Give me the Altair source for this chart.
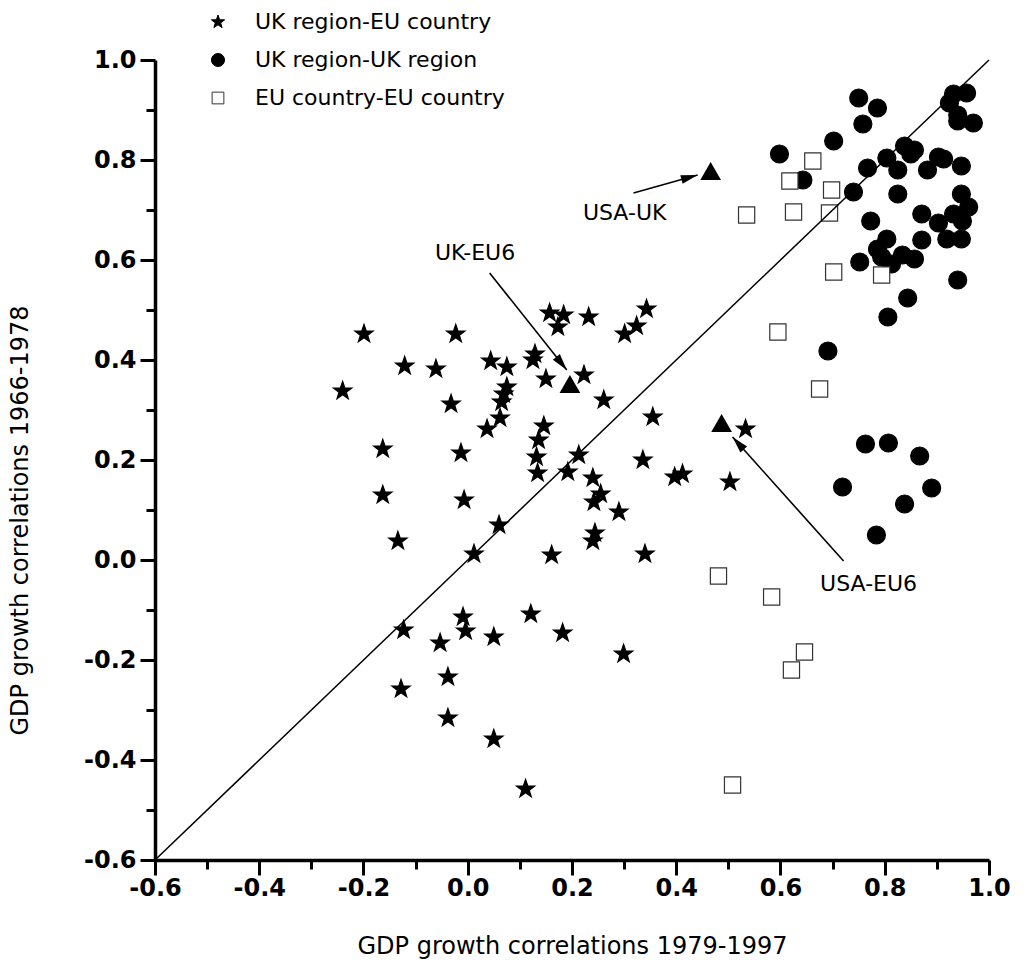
import math
import altair as alt
import pandas as pd

# ---------------- data ----------------
series_names = ["UK region-EU country", "UK region-UK region", "EU country-EU country"]

star_x = [-0.240, -0.199, -0.121, -0.061, -0.023, -0.032, -0.163, -0.163, -0.134, -0.013,
          -0.007, 0.012, -0.123, -0.128, -0.053, -0.009, -0.004, 0.050, -0.038, -0.038,
          0.050, 0.111, 0.121, 0.182, 0.299, 0.060, 0.037, 0.044, 0.075, 0.075,
          0.069, 0.065, 0.062, 0.157, 0.184, 0.173, 0.232, 0.343, 0.324, 0.301,
          0.129, 0.125, 0.150, 0.223, 0.261, 0.355, 0.146, 0.136, 0.132, 0.134,
          0.213, 0.192, 0.240, 0.255, 0.242, 0.290, 0.336, 0.397, 0.412, 0.503,
          0.533, 0.244, 0.240, 0.340, 0.161]
star_y = [0.338, 0.452, 0.388, 0.382, 0.452, 0.312, 0.222, 0.130, 0.038, 0.214,
          0.120, 0.012, -0.140, -0.258, -0.166, -0.114, -0.142, -0.154, -0.234, -0.316,
          -0.358, -0.458, -0.108, -0.146, -0.188, 0.070, 0.262, 0.398, 0.386, 0.346,
          0.332, 0.316, 0.284, 0.494, 0.490, 0.466, 0.486, 0.502, 0.468, 0.452,
          0.412, 0.400, 0.362, 0.370, 0.320, 0.286, 0.268, 0.240, 0.206, 0.174,
          0.210, 0.176, 0.164, 0.132, 0.116, 0.096, 0.200, 0.166, 0.172, 0.156,
          0.262, 0.054, 0.038, 0.012, 0.010]

circle_x = [0.750, 0.786, 0.758, 0.702, 0.598, 0.643, 0.932, 0.957, 0.924, 0.940,
            0.940, 0.970, 0.838, 0.857, 0.850, 0.804, 0.767, 0.825, 0.882, 0.903,
            0.913, 0.947, 0.740, 0.825, 0.947, 0.961, 0.932, 0.949, 0.871, 0.903,
            0.773, 0.804, 0.786, 0.794, 0.813, 0.834, 0.857, 0.871, 0.919, 0.947,
            0.752, 0.940, 0.844, 0.806, 0.691, 0.763, 0.807, 0.867, 0.719, 0.890,
            0.838, 0.784]
circle_y = [0.924, 0.904, 0.872, 0.838, 0.812, 0.760, 0.932, 0.934, 0.914, 0.890,
            0.878, 0.874, 0.828, 0.820, 0.812, 0.804, 0.784, 0.780, 0.780, 0.806,
            0.802, 0.788, 0.736, 0.732, 0.732, 0.706, 0.692, 0.678, 0.692, 0.674,
            0.678, 0.642, 0.622, 0.606, 0.592, 0.610, 0.602, 0.640, 0.642, 0.642,
            0.596, 0.560, 0.524, 0.486, 0.418, 0.232, 0.234, 0.208, 0.146, 0.144,
            0.112, 0.050]

square_x = [0.662, 0.618, 0.698, 0.535, 0.625, 0.694, 0.702, 0.794, 0.595, 0.675,
            0.481, 0.583, 0.646, 0.621, 0.508]
square_y = [0.798, 0.758, 0.740, 0.690, 0.696, 0.694, 0.576, 0.570, 0.456, 0.342,
            -0.032, -0.074, -0.184, -0.220, -0.450]

tri_label = ["USA-UK", "UK-EU6", "USA-EU6"]
tri_x = [0.466, 0.196, 0.487]
tri_y = [0.778, 0.352, 0.274]

label_x = [0.301, 0.014, 0.769]
label_y = [0.694, 0.614, -0.048]
arrow_x0 = [0.318, 0.042, 0.721]
arrow_y0 = [0.734, 0.574, -0.002]
arrow_x1 = [0.441, 0.190, 0.508]
arrow_y1 = [0.770, 0.380, 0.246]

diag_v = [-0.6, 1.0]

major_ticks = [-0.6, -0.4, -0.2, 0.0, 0.2, 0.4, 0.6, 0.8, 1.0]
minor_ticks = [-0.5, -0.3, -0.1, 0.1, 0.3, 0.5, 0.7, 0.9]

x_title = "GDP growth correlations 1979-1997"
y_title = "GDP growth correlations 1966-1978"

# ---------------- layout ----------------
W, H = 834, 800
DOM = [-0.6, 1.0]
FONT = "DejaVu Sans"

STAR = ("M0,-1.07L0.251,-0.347L1.018,-0.331L0.407,0.133L0.629,0.866L0,0.428"
        "L-0.629,0.866L-0.407,0.133L-1.018,-0.331L-0.251,-0.347Z")
SQUARE = "M-0.9,-0.9L0.9,-0.9L0.9,0.9L-0.9,0.9Z"
HEAD = "M0,0L0.4,1.5L-0.4,1.5Z"

pts = pd.concat([
    pd.DataFrame({"x": circle_x, "y": circle_y, "group": series_names[1]}),
    pd.DataFrame({"x": star_x, "y": star_y, "group": series_names[0]}),
    pd.DataFrame({"x": square_x, "y": square_y, "group": series_names[2]}),
], ignore_index=True)

px_per_x = W / (DOM[1] - DOM[0])
px_per_y = H / (DOM[1] - DOM[0])
ang = []
for a, b, c, d in zip(arrow_x0, arrow_y0, arrow_x1, arrow_y1):
    dx = (c - a) * px_per_x
    dy = -(d - b) * px_per_y
    ang.append(math.degrees(math.atan2(dx, -dy)) % 360)

ann = pd.DataFrame({
    "name": tri_label, "tx": tri_x, "ty": tri_y,
    "lx": label_x, "ly": label_y,
    "x0": arrow_x0, "y0": arrow_y0, "x1": arrow_x1, "y1": arrow_y1,
    "angle": ang,
})
diag = pd.DataFrame({"x": diag_v, "y": diag_v})

xs = alt.Scale(domain=DOM, nice=False, zero=False)
ys = alt.Scale(domain=DOM, nice=False, zero=False)

lab_expr = "(datum.value < 0 ? '-' : '') + format(abs(datum.value), '.1f')"

x_main = alt.Axis(orient="bottom", values=major_ticks, tickSize=15, tickWidth=3, tickColor="black",
                  domainWidth=3.5, domainColor="black", grid=False,
                  labelExpr=lab_expr, labelFont=FONT, labelFontSize=24, labelFontWeight="bold",
                  labelColor="black", labelPadding=1, labelFlush=False, labelOverlap=False,
                  title=x_title, titleFont=FONT, titleFontSize=24, titleFontWeight="normal",
                  titleColor="black", titleY=93, titleBaseline="alphabetic")
y_main = alt.Axis(orient="left", values=major_ticks, tickSize=15, tickWidth=3, tickColor="black",
                  domainWidth=3.5, domainColor="black", grid=False,
                  labelExpr=lab_expr, labelFont=FONT, labelFontSize=24, labelFontWeight="bold",
                  labelColor="black", labelPadding=4, labelFlush=False, labelOverlap=False,
                  title=y_title, titleFont=FONT, titleFontSize=24, titleFontWeight="normal",
                  titleColor="black", titleX=-135, titleY=460, titleAngle=270,
                  titleAlign="center", titleBaseline="middle")
x_minor = alt.Axis(orient="bottom", values=minor_ticks, tickSize=9, tickWidth=3, tickColor="black",
                   domain=False, labels=False, grid=False, title=None)
y_minor = alt.Axis(orient="left", values=minor_ticks, tickSize=9, tickWidth=3, tickColor="black",
                   domain=False, labels=False, grid=False, title=None)

leg = alt.Legend(orient="none", legendX=52, legendY=-49, title=None,
                 labelFont=FONT, labelFontSize=22, labelColor="black",
                 labelLimit=500, labelOffset=26, symbolSize=170,
                 symbolOpacity=1, symbolStrokeWidth=1, rowPadding=16)

points = alt.Chart(pts).mark_point(filled=True, opacity=1, size=324, strokeWidth=1.2).encode(
    x=alt.X("x:Q", scale=xs, axis=x_main),
    y=alt.Y("y:Q", scale=ys, axis=y_main),
    shape=alt.Shape("group:N", scale=alt.Scale(domain=series_names,
                                               range=[STAR, "circle", SQUARE]),
                    sort=series_names, legend=leg),
    fill=alt.Fill("group:N", scale=alt.Scale(domain=series_names,
                                             range=["black", "black", "white"]),
                  sort=series_names, legend=leg),
    stroke=alt.Stroke("group:N", scale=alt.Scale(domain=series_names,
                                                 range=["black", "black", "#333333"]),
                      sort=series_names, legend=leg),
)

line = alt.Chart(diag).mark_line(color="black", strokeWidth=1.5).encode(
    x=alt.X("x:Q", scale=xs, axis=x_minor),
    y=alt.Y("y:Q", scale=ys, axis=y_minor),
)

tris = alt.Chart(ann).mark_point(shape="triangle-up", filled=True, opacity=1, size=430,
                                 color="black").encode(
    x=alt.X("tx:Q", scale=xs, axis=None),
    y=alt.Y("ty:Q", scale=ys, axis=None),
)

arrows = alt.Chart(ann).mark_rule(color="black", strokeWidth=1.6).encode(
    x=alt.X("x0:Q", scale=xs, axis=None),
    y=alt.Y("y0:Q", scale=ys, axis=None),
    x2="x1:Q", y2="y1:Q",
)

heads = alt.Chart(ann).mark_point(shape=HEAD, filled=True, opacity=1, size=500,
                                  color="black").encode(
    x=alt.X("x1:Q", scale=xs, axis=None),
    y=alt.Y("y1:Q", scale=ys, axis=None),
    angle=alt.Angle("angle:Q", scale=None),
)

labels = alt.Chart(ann).mark_text(font=FONT, fontSize=22, color="black").encode(
    x=alt.X("lx:Q", scale=xs, axis=None),
    y=alt.Y("ly:Q", scale=ys, axis=None),
    text="name:N",
)

chart = alt.layer(points, line, tris, arrows, heads, labels).resolve_axis(
    x="independent", y="independent"
).properties(
    width=W, height=H,
    autosize=alt.AutoSizeParams(type="none"),
    padding={"left": 155, "top": 60, "right": 37, "bottom": 109},
).configure_view(strokeWidth=0)

chart.save("out.html", embed_options={"renderer": "svg", "actions": False})
